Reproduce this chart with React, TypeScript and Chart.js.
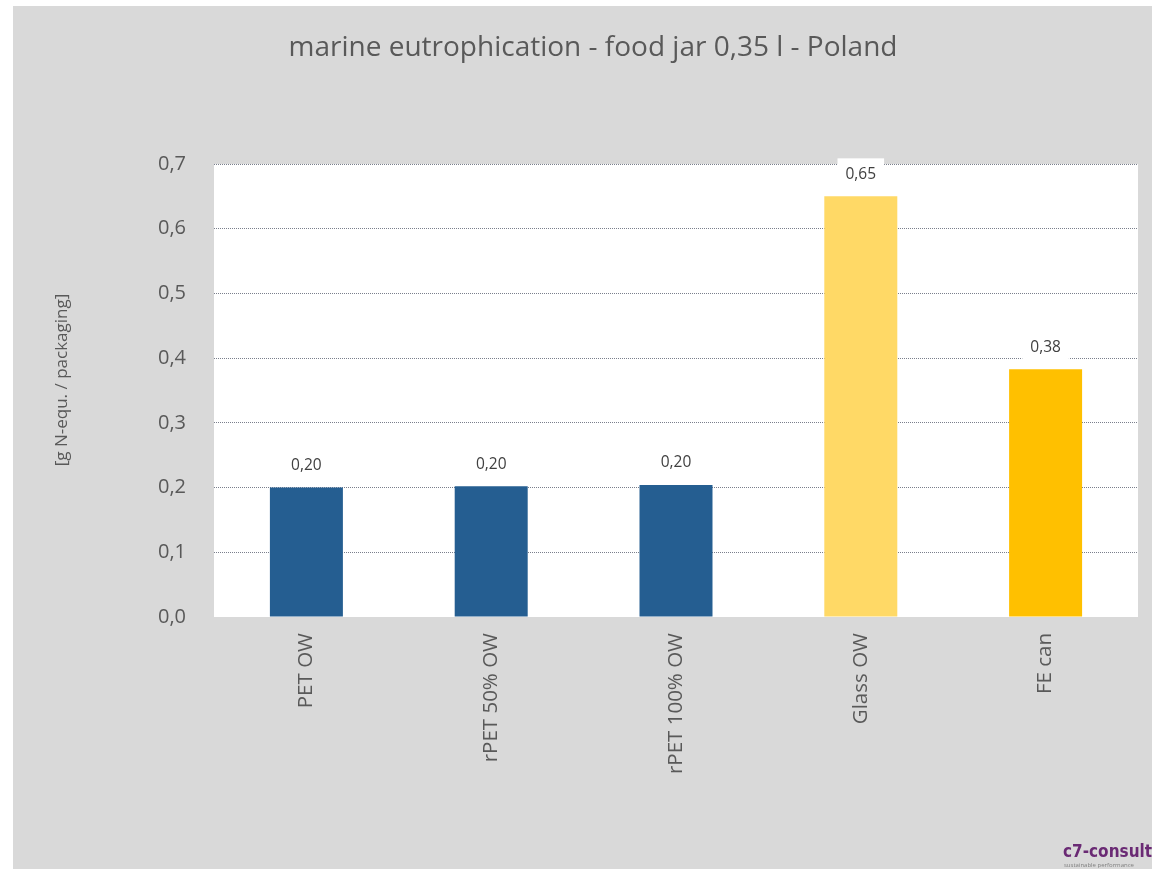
import React, { useEffect, useRef } from "react";
import { Chart, registerables } from "chart.js";

Chart.register(...registerables);

const TITLE = "marine eutrophication - food jar 0,35 l - Poland";
const Y_TITLE = "[g N-equ. / packaging]";
const CATEGORIES = ["PET OW", "rPET 50% OW", "rPET 100% OW", "Glass OW", "FE can"];
const VALUES = [0.2, 0.202, 0.204, 0.65, 0.383];
const COLORS = ["#255e91", "#255e91", "#255e91", "#ffd966", "#ffc000"];
const Y_MIN = 0;
const Y_MAX = 0.7;
const Y_STEP = 0.1;

const FONT = "'Open Sans', 'Liberation Sans', sans-serif";
const TEXT = "#595959";

const fmt = (v: number, d: number) => v.toFixed(d).replace(".", ",");

export default function App() {
  const ref = useRef<HTMLCanvasElement | null>(null);

  useEffect(() => {
    const canvas = ref.current;
    if (!canvas) return;

    const decor = {
      id: "decor",
      beforeDraw(chart: any) {
        const { ctx, chartArea } = chart;
        ctx.save();
        ctx.fillStyle = "#d9d9d9";
        ctx.fillRect(0, 0, chart.width, chart.height);
        ctx.fillStyle = "#ffffff";
        ctx.fillRect(chartArea.left, chartArea.top, chartArea.right - chartArea.left, chartArea.bottom - chartArea.top);
        ctx.restore();
      },
      afterDatasetsDraw(chart: any) {
        const { ctx } = chart;
        const meta = chart.getDatasetMeta(0);
        ctx.save();
        ctx.font = `15.5px ${FONT}`;
        ctx.textAlign = "center";
        ctx.textBaseline = "middle";
        meta.data.forEach((bar: any, i: number) => {
          const label = fmt(VALUES[i], 2);
          const w = ctx.measureText(label).width + 16;
          const cy = bar.y - 22;
          ctx.fillStyle = "#ffffff";
          ctx.fillRect(bar.x - w / 2, cy - 16, w, 30);
          ctx.fillStyle = "#404040";
          ctx.fillText(label, bar.x, cy);
        });
        ctx.restore();
      },
      afterDraw(chart: any) {
        const { ctx } = chart;
        ctx.save();
        ctx.fillStyle = TEXT;
        ctx.textAlign = "center";
        ctx.textBaseline = "middle";
        ctx.font = `28px ${FONT}`;
        ctx.fillText(TITLE, 580, 42);

        ctx.translate(49, 374);
        ctx.rotate(-Math.PI / 2);
        ctx.font = `17px ${FONT}`;
        ctx.fillText(Y_TITLE, 0, 0);
        ctx.restore();

        ctx.save();
        ctx.textAlign = "left";
        ctx.textBaseline = "alphabetic";
        ctx.fillStyle = "#6a2a74";
        ctx.font = `bold 17px 'DejaVu Sans Condensed', 'DejaVu Sans', sans-serif`;
        ctx.fillText("c7-consult", 1050, 851);
        ctx.fillStyle = "#7f7f7f";
        ctx.font = `6px ${FONT}`;
        ctx.fillText("sustainable performance", 1051, 861);
        ctx.restore();
      },
    };

    const chart = new Chart(canvas, {
      type: "bar",
      data: {
        labels: CATEGORIES,
        datasets: [
          {
            data: VALUES,
            backgroundColor: COLORS,
            borderWidth: 0,
            barPercentage: 0.395,
            categoryPercentage: 1,
          },
        ],
      },
      options: {
        animation: false,
        responsive: false,
        devicePixelRatio: 1,
        layout: { padding: { top: 158, right: 14, left: 0, bottom: 0 } },
        plugins: {
          legend: { display: false },
          title: { display: false },
          tooltip: { enabled: false },
        },
        scales: {
          x: {
            grid: { display: false },
            border: { display: false },
            ticks: {
              color: TEXT,
              font: { family: FONT, size: 20.5 },
              minRotation: 90,
              maxRotation: 90,
              padding: 8,
              autoSkip: false,
            },
            afterFit(scale: any) {
              scale.height = 252;
            },
          },
          y: {
            min: Y_MIN,
            max: Y_MAX,
            border: { display: false, dash: [1, 1] },
            grid: {
              drawTicks: false,
              color: (c: any) => (c.tick && c.tick.value === 0 ? "rgba(0,0,0,0)" : "#7a7f8c"),
              lineWidth: 1,
            },
            ticks: {
              stepSize: Y_STEP,
              color: TEXT,
              font: { family: FONT, size: 20 },
              padding: 28,
              callback: (v: any) => fmt(Number(v), 1),
            },
            afterFit(scale: any) {
              scale.width = 201;
            },
          },
        },
      },
      plugins: [decor],
    } as any);

    return () => chart.destroy();
  }, []);

  return (
    <div style={{ position: "fixed", left: 13, top: 6, width: 1139, height: 863, background: "#d9d9d9" }}>
      <canvas ref={ref} width={1139} height={863} style={{ display: "block", width: 1139, height: 863 }} />
    </div>
  );
}
